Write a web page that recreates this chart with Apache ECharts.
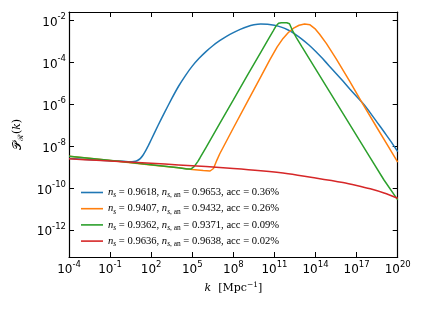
<!DOCTYPE html>
<html><head><meta charset="utf-8">
<script src="https://cdn.jsdelivr.net/npm/echarts@6/dist/echarts.min.js"></script>
<style>html,body{margin:0;padding:0;background:#fff}#c{width:424px;height:310px}</style>
</head><body><div id="c"></div>
<script>
// axis ranges (log10 exponents)
const xMinExp = -4, xMaxExp = 20, xStepExp = 3;
const yMinExp = -13.27, yMaxExp = -1.59;
const yTickExps = [-12, -10, -8, -6, -4, -2];

// legend values
const nsValues   = ['0.9618', '0.9407', '0.9362', '0.9636'];
const nsAnValues = ['0.9653', '0.9432', '0.9371', '0.9638'];
const accValues  = ['0.36%', '0.26%', '0.09%', '0.02%'];
const colors = ['#1f77b4', '#ff7f0e', '#2ca02c', '#d62728'];
const smoothness = [0.15, false, false, 0.3];

// series: log10(k) and log10(P_R)
const blueLogK = [-4,-2,0,0.6,0.85,1.0,1.2,1.4,1.6,1.8,2.0,2.5,3.0,3.5,4.0,4.5,5.0,5.5,6.0,6.5,7.0,7.5,8.0,8.5,9.0,9.5,10.0,10.5,11.0,11.5,12.0,12.5,13.0,13.5,14.0,14.5,15.0,15.5,16.0,16.5,17.0,17.5,18.0,18.5,19.0,19.5,20.0];
const blueLogP = [-8.57,-8.65,-8.71,-8.73,-8.71,-8.67,-8.58,-8.42,-8.2,-7.95,-7.68,-7.0,-6.35,-5.72,-5.13,-4.62,-4.17,-3.8,-3.48,-3.2,-2.96,-2.75,-2.57,-2.42,-2.29,-2.2,-2.16,-2.17,-2.22,-2.31,-2.45,-2.64,-2.88,-3.15,-3.46,-3.8,-4.16,-4.52,-4.88,-5.26,-5.62,-5.98,-6.4,-6.85,-7.3,-7.76,-8.25];

const orangeLogK = [-4,-2,0,2,4,5,5.8,6.3,6.55,6.8,7.0,8.0,9.0,10.0,10.66,11.2,11.63,12.0,12.4,12.8,13.2,13.6,13.95,14.3,14.8,15.5,16.5,17.35,18.5,19.3,20];
const orangeLogP = [-8.47,-8.6,-8.74,-8.88,-9.02,-9.1,-9.15,-9.17,-9.05,-8.65,-8.36,-7.12,-5.9,-4.68,-3.87,-3.25,-2.85,-2.58,-2.36,-2.22,-2.16,-2.2,-2.38,-2.65,-3.1,-3.81,-4.9,-5.86,-7.12,-7.98,-8.75];

const greenLogK = [-4,-2,0,2,4,4.6,4.9,5.15,5.4,5.56,6.0,7.0,8.0,9.0,10.0,10.6,10.9,11.1,11.3,11.5,11.9,12.1,12.3,12.6,13,14,15,16,17,18,19,20];
const greenLogP = [-8.47,-8.6,-8.73,-8.87,-9.02,-9.08,-9.08,-8.95,-8.72,-8.55,-8.05,-6.91,-5.78,-4.64,-3.51,-2.83,-2.5,-2.27,-2.13,-2.1,-2.1,-2.15,-2.45,-2.81,-3.24,-4.3,-5.36,-6.42,-7.48,-8.54,-9.6,-10.55];

const redLogK = [-4,-2,0,2,4,6,8,10,12,14,16,17,18,19,20];
const redLogP = [-8.59,-8.66,-8.73,-8.8,-8.88,-8.96,-9.05,-9.16,-9.3,-9.5,-9.72,-9.86,-10.02,-10.22,-10.47];

const seriesK = [blueLogK, orangeLogK, greenLogK, redLogK];
const seriesP = [blueLogP, orangeLogP, greenLogP, redLogP];

const names = nsValues.map((v, i) => 'ns=' + v + ', ns,an=' + nsAnValues[i] + ', acc=' + accValues[i]);

const tickFont = 'DejaVu Sans';
const serif = 'DejaVu Serif';
const legSerif = 'Liberation Serif';
const powRich = {
  b: { fontFamily: tickFont, fontSize: 12, lineHeight: 16, color: '#000', verticalAlign: 'bottom' },
  s: { fontFamily: tickFont, fontSize: 8.5, lineHeight: 10, color: '#000', verticalAlign: 'top' }
};
function powLabel(v) { return '{b|10}{s|' + v + '}'; }

const legendRich = {
  i: { fontFamily: legSerif, fontStyle: 'italic', fontSize: 10.6, lineHeight: 13, color: '#000' },
  t: { fontFamily: legSerif, fontSize: 10.6, lineHeight: 13, color: '#000' },
  sub: { fontFamily: legSerif, fontSize: 7.4, lineHeight: 9, color: '#000', verticalAlign: 'bottom' },
  subi: { fontFamily: legSerif, fontStyle: 'italic', fontSize: 7.4, lineHeight: 9, color: '#000', verticalAlign: 'bottom' }
};

const chart = echarts.init(document.getElementById('c'), null, { renderer: 'canvas' });
const axisCommon = {
  axisLine: { show: true, onZero: false, lineStyle: { color: '#000', width: 1.2 } },
  axisTick: { show: true, inside: true, length: 5, lineStyle: { color: '#000', width: 1 } },
  splitLine: { show: false }
};
chart.setOption({
  animation: false,
  backgroundColor: '#fff',
  grid: { left: 69, right: 26.3, top: 12, bottom: 53, containLabel: false },
  xAxis: [
    Object.assign({
      type: 'value', min: xMinExp, max: xMaxExp, interval: xStepExp, position: 'bottom',
      axisLabel: { margin: 3, formatter: v => powLabel(Math.round(v)), rich: powRich, showMinLabel: true, showMaxLabel: true, hideOverlap: false },
      name: '{i|k}{t|  [Mpc}{sup|\u22121}{t|]}',
      nameLocation: 'middle', nameGap: 21,
      nameTextStyle: { rich: {
        i: { fontFamily: serif, fontStyle: 'italic', fontSize: 11, lineHeight: 15, color: '#000' },
        t: { fontFamily: serif, fontSize: 11, lineHeight: 15, color: '#000' },
        sup: { fontFamily: serif, fontSize: 7.5, lineHeight: 9, color: '#000', verticalAlign: 'top' }
      } }
    }, axisCommon),
    Object.assign({
      type: 'value', min: xMinExp, max: xMaxExp, interval: xStepExp, position: 'top',
      axisLabel: { show: false }
    }, axisCommon)
  ],
  yAxis: [
    Object.assign({
      type: 'value', min: yMinExp, max: yMaxExp, splitNumber: 5, position: 'left',
      axisLabel: { margin: 3, formatter: v => { const r = Math.round(v); return (Math.abs(v - r) < 1e-6 && yTickExps.indexOf(r) >= 0) ? powLabel(r) : ''; }, rich: powRich, showMinLabel: false, showMaxLabel: false },
      name: '{p|\uD835\uDCAB}{sub|\u211B}{t|(}{i|k}{t|)}',
      nameLocation: 'middle', nameGap: 44, nameRotate: 90,
      nameTextStyle: { rich: {
        p: { fontFamily: serif, fontSize: 12, lineHeight: 15, color: '#000' },
        i: { fontFamily: serif, fontStyle: 'italic', fontSize: 11, lineHeight: 15, color: '#000' },
        t: { fontFamily: serif, fontSize: 11, lineHeight: 15, color: '#000' },
        sub: { fontFamily: serif, fontSize: 7.5, lineHeight: 9, color: '#000', verticalAlign: 'bottom' }
      } }
    }, axisCommon),
    Object.assign({
      type: 'value', min: yMinExp, max: yMaxExp, splitNumber: 5, position: 'right',
      axisLabel: { show: false }
    }, axisCommon)
  ],
  legend: {
    orient: 'vertical', left: 76, top: 182, itemWidth: 22, itemHeight: 1.6, itemGap: 4.2,
    icon: 'rect', selectedMode: false,
    textStyle: { rich: legendRich },
    formatter: name => {
      const i = names.indexOf(name);
      return '{i|n}{subi|s}{t| = ' + nsValues[i] + ', }{i|n}{subi|s}{sub|, an}{t| = ' + nsAnValues[i] + ', acc = ' + accValues[i] + '}';
    },
    data: names
  },
  series: names.map((n, i) => ({
    name: n, type: 'line', xAxisIndex: 0, yAxisIndex: 0,
    showSymbol: false, symbol: 'none', smooth: smoothness[i], clip: true,
    lineStyle: { color: colors[i], width: 1.5 },
    itemStyle: { color: colors[i] },
    data: seriesK[i].map((k, j) => [k, seriesP[i][j]])
  }))
});
</script></body></html>
